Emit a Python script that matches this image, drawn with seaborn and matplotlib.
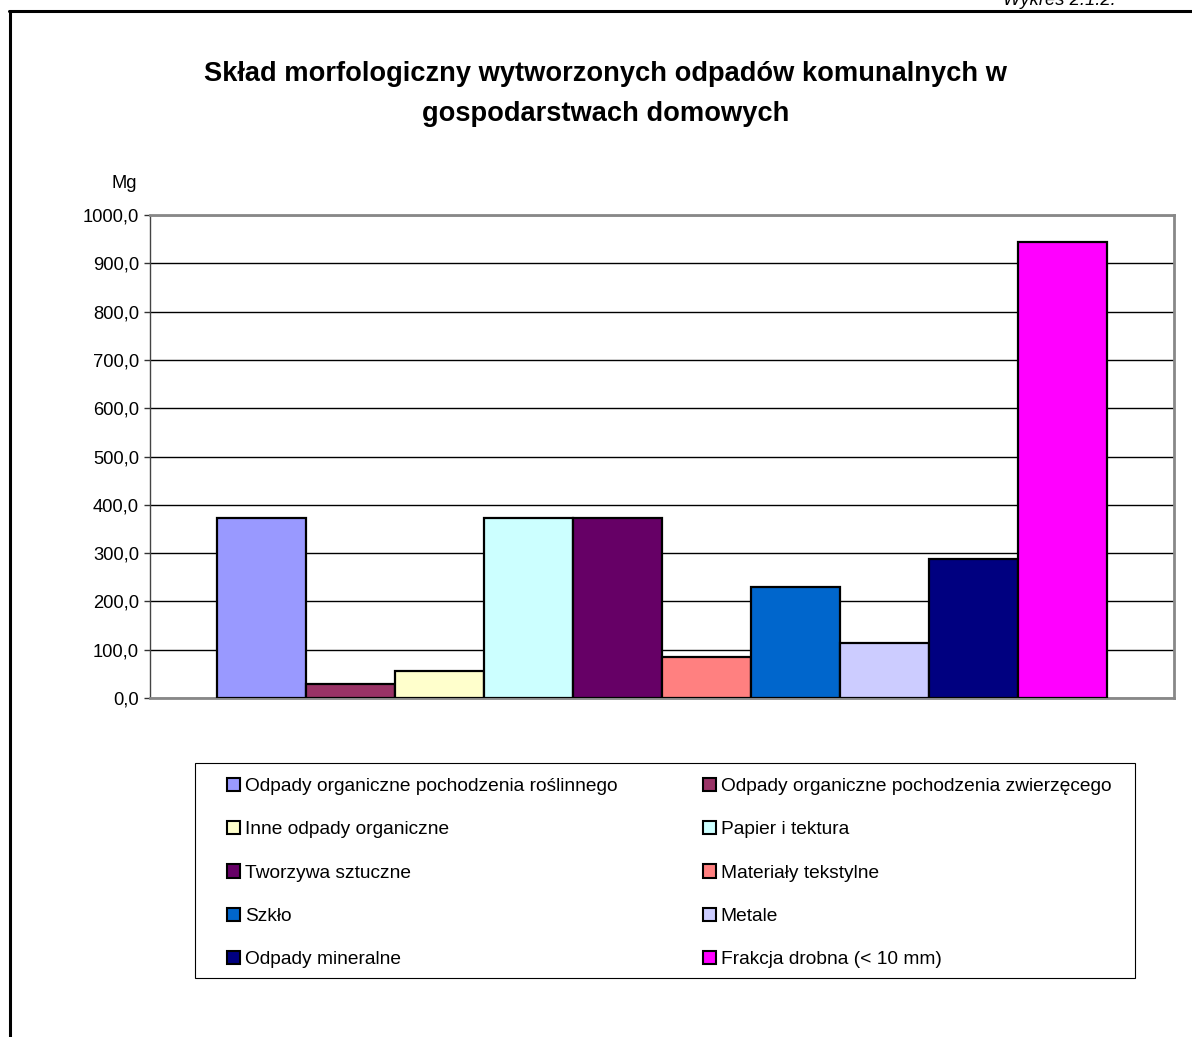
import matplotlib
matplotlib.use("Agg")
import matplotlib.pyplot as plt
from matplotlib.lines import Line2D
from matplotlib.patches import Rectangle
from matplotlib.ticker import FuncFormatter
import seaborn as sns
import pandas as pd

categories = [
    "Odpady organiczne pochodzenia roślinnego",
    "Odpady organiczne pochodzenia zwierzęcego",
    "Inne odpady organiczne",
    "Papier i tektura",
    "Tworzywa sztuczne",
    "Materiały tekstylne",
    "Szkło",
    "Metale",
    "Odpady mineralne",
    "Frakcja drobna (< 10 mm)",
]
values = [372.7, 29.0, 56.5, 372.7, 372.7, 85.0, 229.0, 114.5, 287.0, 944.0]
colors = ["#9999FF", "#993366", "#FFFFCC", "#CCFFFF", "#660066",
          "#FF8080", "#0066CC", "#CCCCFF", "#000080", "#FF00FF"]
yticks = [0, 100, 200, 300, 400, 500, 600, 700, 800, 900, 1000]

sns.set_style("white")
plt.rcParams["font.family"] = ["Liberation Sans", "DejaVu Sans"]
plt.rcParams["text.color"] = "black"
plt.rcParams["ytick.color"] = "black"

W, H = 1192, 1037
fig = plt.figure(figsize=(W / 100, H / 100), dpi=100)
ax = fig.add_axes([150 / W, 1 - 698 / H, 1024 / W, 483 / H])

df = pd.DataFrame({"grp": [""] * len(categories), "name": categories, "val": values})
sns.barplot(data=df, x="grp", y="val", hue="name", hue_order=categories,
            palette=colors, saturation=1, width=0.869, edgecolor="black",
            linewidth=1.6, ax=ax, legend=True, zorder=3)

ax.set_xlim(-0.5, 0.5)
ax.set_ylim(0, 1000)
ax.set_yticks(yticks)
ax.yaxis.set_major_formatter(FuncFormatter(lambda v, p: f"{v:.1f}".replace(".", ",")))
ax.set_xticks([])
ax.set_xlabel("")
ax.set_ylabel("")
ax.tick_params(axis="y", direction="out", length=4, width=1, color="#333333",
               labelcolor="black", labelsize=13.2, pad=4, left=True)
ax.yaxis.grid(True, color="black", linewidth=1)
ax.set_axisbelow(True)
for s in ["top", "right", "bottom"]:
    ax.spines[s].set_color("#888888")
    ax.spines[s].set_linewidth(2)
ax.spines["left"].set_color("#444444")
ax.spines["left"].set_linewidth(1)

# legend, row-major order in two columns
handles, labels = ax.get_legend_handles_labels()
ax.get_legend().remove()
order = [0, 2, 4, 6, 8, 1, 3, 5, 7, 9]
h2 = [handles[i] for i in order]
l2 = [labels[i] for i in order]
leg = fig.legend(h2, l2, ncol=2, loc="upper left",
                 bbox_to_anchor=(227 / W, 1 - 778 / H),
                 fontsize=13.8, frameon=False,
                 handlelength=0.68, handleheight=0.68,
                 handletextpad=0.25, labelspacing=1.35, borderpad=0,
                 borderaxespad=0, columnspacing=4.45)
for p in leg.get_patches():
    p.set_edgecolor("black")
    p.set_linewidth(1.5)
fig.add_artist(Rectangle((195 / W, 1 - 978 / H), 940 / W, 215 / H,
                         transform=fig.transFigure, fill=False,
                         edgecolor="black", linewidth=0.8))

fig.text(606 / W, 1 - 81 / H,
         "Skład morfologiczny wytworzonych odpadów komunalnych w",
         ha="center", va="baseline", fontsize=19.6, fontweight="bold")
fig.text(606 / W, 1 - 121 / H, "gospodarstwach domowych",
         ha="center", va="baseline", fontsize=19.6, fontweight="bold")
fig.text(137 / W, 1 - 188 / H, "Mg", ha="right", va="baseline", fontsize=13.2)
fig.text(1116 / W, 1 - 5 / H, "Wykres 2.1.2.", ha="right", va="baseline",
         fontsize=13.2, style="italic")

fig.add_artist(Line2D([10 / W, 10 / W], [0, 1 - 11 / H], color="black", lw=2.2))
fig.add_artist(Line2D([9 / W, 1], [1 - 11 / H, 1 - 11 / H], color="black", lw=2.2))

fig.savefig("out.png", dpi=100)
